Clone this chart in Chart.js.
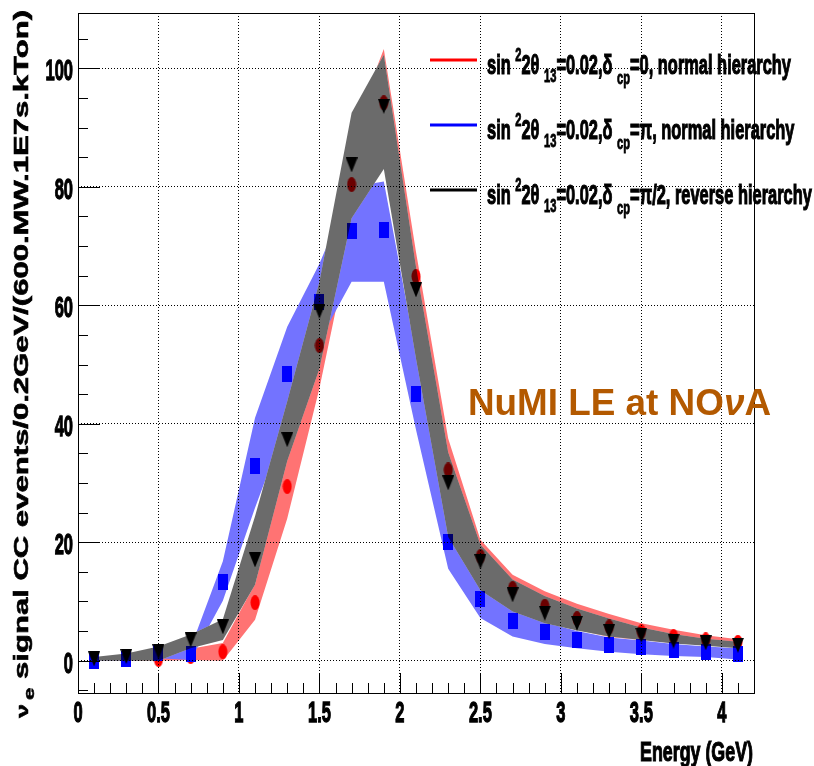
<!DOCTYPE html>
<html>
<head>
<meta charset="utf-8">
<script src="https://cdn.jsdelivr.net/npm/chart.js@4.4.1/dist/chart.umd.min.js"></script>
<style>
body { margin: 0; background: #fff; }
#wrap { width: 814px; height: 766px; }
</style>
</head>
<body>
<div id="wrap"><canvas id="chart" width="814" height="766"></canvas></div>
<script>
// bin centres (GeV)
const energy = [0.1, 0.3, 0.5, 0.7, 0.9, 1.1, 1.3, 1.5, 1.7, 1.9, 2.1, 2.3, 2.5, 2.7, 2.9, 3.1, 3.3, 3.5, 3.7, 3.9, 4.1];

// delta_cp = 0, normal hierarchy (red)
const redPoints = [0.1, 0.2, 0.2, 0.7, 1.5, 9.8, 29.4, 53.2, 80.4, 94.2, 64.9, 32.2, 17.6, 12.2, 9.2, 7.1, 5.7, 4.9, 4.1, 3.5, 3.1];
const redUpper  = [0.3, 0.5, 0.8, 2.0, 3.0, 13.0, 35.0, 60.0, 89.0, 103.3, 69.0, 37.5, 20.4, 14.5, 11.7, 9.6, 7.9, 6.3, 5.2, 4.3, 3.6];
const redLower  = [0.0, 0.0, 0.0, 0.1, 0.0, 6.9, 24.0, 46.0, 72.0, 85.0, 59.0, 27.0, 14.5, 10.0, 7.0, 5.2, 4.0, 3.5, 3.0, 2.7, 2.4];

// delta_cp = pi, normal hierarchy (blue)
const bluePoints = [0.0, 0.2, 1.3, 1.2, 13.3, 32.8, 48.4, 60.6, 72.6, 72.7, 45.0, 20.0, 10.4, 6.7, 4.8, 3.5, 2.7, 2.3, 1.8, 1.5, 1.2];
const blueUpper  = [0.3, 0.8, 1.8, 2.2, 16.8, 41.0, 56.4, 67.0, 80.0, 80.9, 52.0, 25.0, 13.5, 9.0, 6.5, 5.0, 3.9, 3.4, 2.8, 2.4, 2.1];
const blueLower  = [0.0, 0.0, 0.4, 0.1, 10.1, 25.8, 40.4, 54.0, 64.0, 64.0, 39.0, 15.5, 7.2, 4.1, 2.8, 2.1, 1.5, 1.1, 0.8, 0.6, 0.2];

// delta_cp = pi/2, reverse hierarchy (black)
const blackPoints = [0.3, 0.7, 1.5, 3.5, 5.7, 17.0, 37.3, 59.0, 83.7, 93.6, 62.6, 30.0, 16.7, 11.1, 8.0, 6.3, 4.9, 4.3, 3.3, 3.0, 2.6];
const grayUpper   = [0.6, 1.2, 2.4, 4.4, 7.0, 24.4, 43.8, 64.0, 92.5, 102.3, 66.5, 35.2, 19.6, 13.7, 10.9, 8.8, 7.1, 5.6, 4.5, 3.7, 3.2];
const grayLower   = [0.0, 0.0, 0.0, 2.1, 3.5, 12.8, 33.7, 49.3, 74.7, 83.0, 51.0, 20.9, 11.9, 8.3, 6.3, 5.1, 4.1, 3.5, 2.9, 2.5, 2.1];

const xTickValues = [0, 0.5, 1, 1.5, 2, 2.5, 3, 3.5, 4];
const xTickLabels = ['0', '0.5', '1', '1.5', '2', '2.5', '3', '3.5', '4'];
const yTickValues = [0, 20, 40, 60, 80, 100];
const yTickLabels = ['0', '20', '40', '60', '80', '100'];

const legendTails = ['=0, normal hierarchy', '=\u03c0, normal hierarchy', '=\u03c0/2, reverse hierarchy'];
const legendColors = ['#ff0000', '#0000ff', '#000000'];

const FONT = '"Liberation Sans", Arial, sans-serif';

function xy(ys) {
  return energy.map((e, i) => ({ x: e, y: ys[i] }));
}

function marker(kind, color) {
  var c = document.createElement('canvas');
  var g = c.getContext('2d');
  if (kind === 'circle') {
    c.width = 10; c.height = 15;
    g.fillStyle = color;
    g.beginPath();
    g.ellipse(5, 7.5, 4.5, 7.5, 0, 0, Math.PI * 2);
    g.fill();
  } else if (kind === 'square') {
    c.width = 10; c.height = 16;
    g.fillStyle = color;
    g.fillRect(0, 0, 10, 16);
  } else {
    c.width = 12; c.height = 15;
    g.fillStyle = color;
    g.beginPath();
    g.moveTo(0, 0); g.lineTo(12, 0); g.lineTo(6, 15);
    g.closePath();
    g.fill();
  }
  return c;
}

function band(ys, fillTarget, color, order) {
  return {
    data: xy(ys),
    borderColor: 'transparent',
    borderWidth: 0,
    pointRadius: 0,
    backgroundColor: color || 'transparent',
    fill: fillTarget === null ? false : fillTarget,
    order: order
  };
}

function points(ys, style, order) {
  return {
    data: xy(ys),
    showLine: false,
    pointStyle: style,
    pointRadius: 6,
    order: order
  };
}

function rich(ctx, x, y, parts, sx) {
  ctx.save();
  ctx.translate(x, y);
  ctx.scale(sx, 1);
  var cx = 0;
  parts.forEach(function (p) {
    ctx.font = (p.italic ? 'italic ' : '') + 'bold ' + p.size + 'px ' + FONT;
    ctx.fillText(p.t, cx, p.dy || 0);
    if (p.stroke) {
      ctx.lineWidth = p.stroke;
      ctx.strokeStyle = ctx.fillStyle;
      ctx.strokeText(p.t, cx, p.dy || 0);
    }
    cx += ctx.measureText(p.t).width;
  });
  ctx.restore();
}

function richWidth(ctx, parts) {
  var w = 0;
  ctx.save();
  parts.forEach(function (p) {
    ctx.font = (p.italic ? 'italic ' : '') + 'bold ' + p.size + 'px ' + FONT;
    w += ctx.measureText(p.t).width;
  });
  ctx.restore();
  return w;
}

function legendParts(tail) {
  return [
    { t: 'sin ', size: 28, stroke: 1.2 },
    { t: '2', size: 19, dy: -13, stroke: 0.9 },
    { t: '2\u03b8 ', size: 28, stroke: 1.2 },
    { t: '13', size: 19, dy: 8, stroke: 0.9 },
    { t: '=0.02,\u03b4 ', size: 28, stroke: 1.2 },
    { t: 'cp', size: 19, dy: 10, stroke: 0.9 },
    { t: tail, size: 28, stroke: 1.2 }
  ];
}

const rootDecor = {
  id: 'rootDecor',
  afterDraw(chart) {
    const ctx = chart.ctx;
    const a = chart.chartArea;
    const xs = chart.scales.x, ys = chart.scales.y;
    ctx.save();
    ctx.strokeStyle = '#000';
    ctx.fillStyle = '#000';
    ctx.lineWidth = 1;

    // ticks inside the frame
    ctx.beginPath();
    for (let v = -5; v <= 105; v += 5) {
      const py = Math.round(ys.getPixelForValue(v)) + 0.5;
      const len = v % 20 === 0 ? 22 : 10;
      ctx.moveTo(a.left, py); ctx.lineTo(a.left + len, py);
    }
    for (let k = 0; k <= 42; k++) {
      const px = Math.round(xs.getPixelForValue(k / 10)) + 0.5;
      const len = k % 5 === 0 ? 20 : 10;
      ctx.moveTo(px, a.bottom); ctx.lineTo(px, a.bottom - len);
    }
    ctx.stroke();

    // frame
    ctx.strokeRect(Math.round(a.left) + 0.5, Math.round(a.top) + 0.5, Math.round(a.right - a.left), Math.round(a.bottom - a.top));

    // tick labels, condensed like the original
    const sx = 0.55;
    yTickValues.forEach(function (v, i) {
      const py = ys.getPixelForValue(v);
      ctx.font = 'bold 30px ' + FONT;
      const w = ctx.measureText(yTickLabels[i]).width * sx;
      rich(ctx, 73 - w, py + 12, [{ t: yTickLabels[i], size: 30, stroke: 1.3 }], sx);
    });
    xTickValues.forEach(function (v, i) {
      const px = xs.getPixelForValue(v);
      ctx.font = 'bold 30px ' + FONT;
      const w = ctx.measureText(xTickLabels[i]).width * sx;
      rich(ctx, px - w / 2, 722, [{ t: xTickLabels[i], size: 30, stroke: 1.3 }], sx);
    });

    // x title
    const xt = [{ t: 'Energy (GeV)', size: 28, stroke: 1.2 }];
    const xsx = 113 / richWidth(ctx, xt);
    rich(ctx, 753 - 113, 761, xt, xsx);

    // y title, rotated
    const yt = [
      { t: '\u03bd', size: 17, stroke: 0.5 },
      { t: ' ', size: 10 },
      { t: 'e', size: 15, dy: 6, stroke: 0.5 },
      { t: ' signal CC events/0.2GeV/(600.MW.1E7s.kTon)', size: 21, stroke: 0.6 }
    ];
    ctx.save();
    ctx.translate(28, 718);
    ctx.rotate(-Math.PI / 2);
    rich(ctx, 0, 0, yt, 708 / richWidth(ctx, yt));
    ctx.restore();

    // legend
    const lsx = 304 / richWidth(ctx, legendParts(legendTails[0]));
    legendTails.forEach(function (tail, i) {
      const ly = 60 + i * 65;
      ctx.strokeStyle = legendColors[i];
      ctx.lineWidth = 3;
      ctx.beginPath();
      ctx.moveTo(430, ly); ctx.lineTo(477, ly);
      ctx.stroke();
      ctx.fillStyle = '#000';
      rich(ctx, 487, ly + 14, legendParts(tail), lsx);
    });

    // label
    const lab = [{ t: 'NuMI LE at NO', size: 37 }, { t: '\u03bd', size: 37, italic: true }, { t: 'A', size: 37 }];
    ctx.fillStyle = '#b35900';
    rich(ctx, 468, 415, lab, 303 / richWidth(ctx, lab));

    ctx.restore();
  }
};

// markers that sit under the hatched gray band look darker; the gray band is
// drawn as a white base below the markers plus a half-black veil above them
const datasets = [
  band(redLower, null, null, 10),
  band(redUpper, 0, '#ff7373', 10),
  band(blueLower, null, null, 9),
  band(blueUpper, 2, '#7373ff', 9),
  band(grayLower, null, null, 8),
  band(grayUpper, 4, '#ffffff', 8),
  points(redPoints, marker('circle', '#ff0000'), 7),
  points(bluePoints, marker('square', '#0000ff'), 6),
  band(grayUpper, 4, 'rgba(0,0,0,0.58)', 5),
  points(blackPoints, marker('triangle', '#000000'), 4)
];

var ctx = document.getElementById('chart').getContext('2d');
var chart = new Chart(ctx, {
  type: 'line',
  data: { datasets: datasets },
  options: {
    responsive: false,
    animation: false,
    events: [],
    layout: { padding: { top: 13, right: 60, left: 0, bottom: 0 } },
    plugins: {
      legend: { display: false },
      tooltip: { enabled: false },
      filler: { propagate: false }
    },
    scales: {
      x: {
        type: 'linear',
        min: 0,
        max: 4.2,
        afterBuildTicks: function (axis) { axis.ticks = xTickValues.map(v => ({ value: v })); },
        afterFit: function (axis) { axis.height = 73; },
        ticks: { display: false },
        grid: { color: '#000', lineWidth: 1, drawTicks: false, z: 1 },
        border: { display: false, dash: [1, 2] }
      },
      y: {
        type: 'linear',
        min: -5.46,
        max: 109.36,
        afterBuildTicks: function (axis) { axis.ticks = yTickValues.map(v => ({ value: v })); },
        afterFit: function (axis) { axis.width = 78; },
        ticks: { display: false },
        grid: { color: '#000', lineWidth: 1, drawTicks: false, z: 1 },
        border: { display: false, dash: [1, 2] }
      }
    }
  },
  plugins: [rootDecor]
});
</script>
</body>
</html>
